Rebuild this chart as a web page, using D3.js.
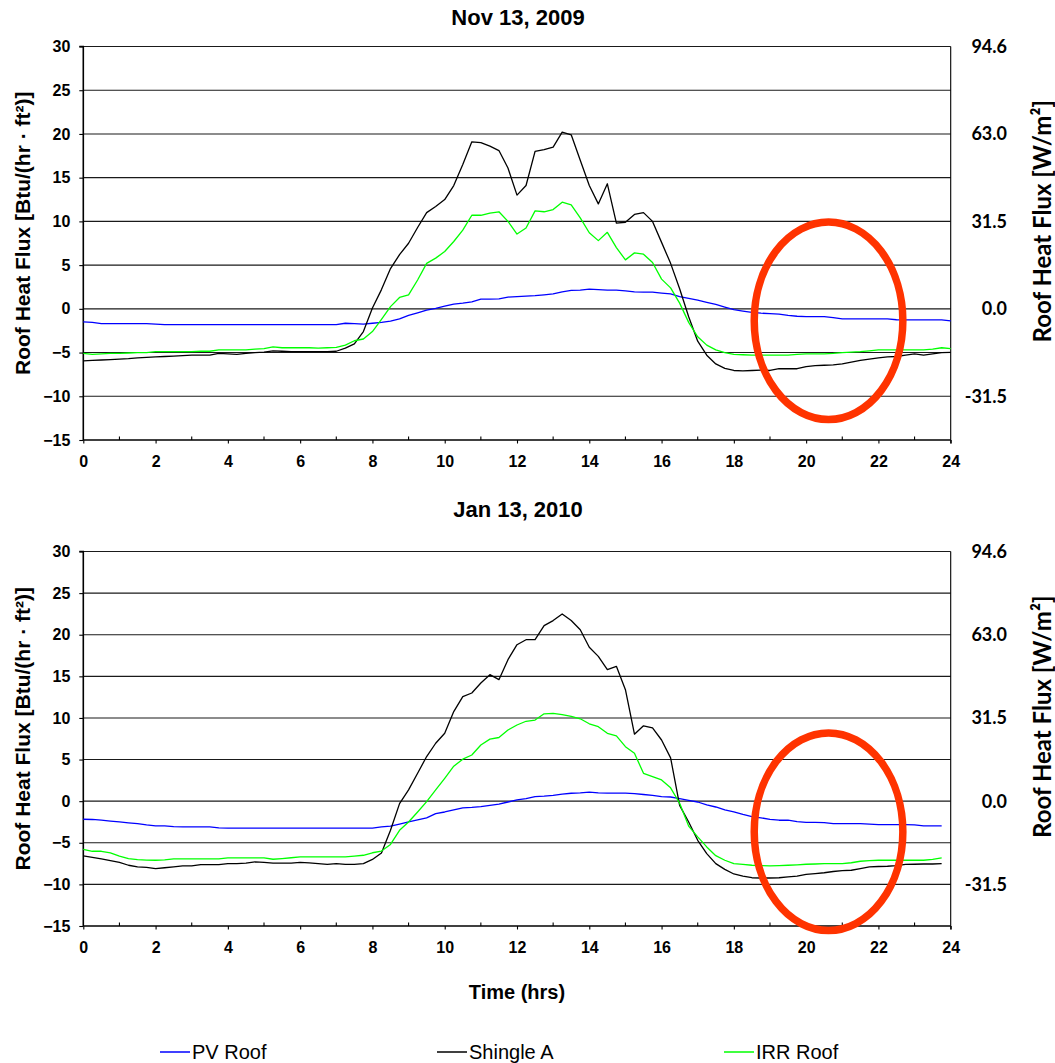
<!DOCTYPE html>
<html><head><meta charset="utf-8">
<script src="https://cdn.jsdelivr.net/npm/d3@7"></script>
<style>body{margin:0;background:#fff}svg{display:block}</style>
</head><body>
<svg id="c" width="1055" height="1063"></svg>
<script>
// ---------- DATA ----------
const stepHours = 0.25;             // samples every 15 minutes
const xTickValues = [0,2,4,6,8,10,12,14,16,18,20,22,24];
const xMinorTicks = [1,3,5,7,9,11,13,15,17,19,21,23];
const yTickValues = [-15,-10,-5,0,5,10,15,20,25,30];
const rightTickLabels = ["-31.5","0.0","31.5","63.0","94.6"];
const rightTickAt = [-10,0,10,20,30];   // left-axis units where right labels sit
const seriesNames = ["PV Roof","Shingle A","IRR Roof"];
const seriesColors = ["#0000ff","#000000","#00ff00"];
const titles = ["Nov 13, 2009","Jan 13, 2010"];

// Nov 13, 2009
const pvNov = [
 -1.5,-1.55,-1.7,-1.7,-1.7,-1.7,-1.7,-1.7,
 -1.75,-1.8,-1.8,-1.8,-1.8,-1.8,-1.8,-1.8,
 -1.8,-1.8,-1.8,-1.8,-1.8,-1.8,-1.8,-1.8,
 -1.8,-1.8,-1.8,-1.8,-1.8,-1.65,-1.7,-1.75,
 -1.65,-1.55,-1.4,-1.15,-0.75,-0.45,-0.15,0.05,
 0.3,0.55,0.65,0.8,1.1,1.1,1.15,1.35,
 1.4,1.45,1.5,1.6,1.7,1.95,2.1,2.15,
 2.25,2.2,2.15,2.15,2.05,1.95,1.9,1.9,
 1.8,1.7,1.4,1.2,1.0,0.75,0.5,0.2,
 -0.1,-0.25,-0.4,-0.5,-0.55,-0.6,-0.75,-0.85,
 -0.88,-0.88,-0.88,-1.0,-1.15,-1.15,-1.15,-1.15,
 -1.15,-1.15,-1.25,-1.26,-1.26,-1.26,-1.26,-1.26,
 -1.38];
const shingleNov = [
 -5.95,-5.9,-5.85,-5.8,-5.75,-5.7,-5.6,-5.55,
 -5.5,-5.45,-5.4,-5.35,-5.3,-5.3,-5.3,-5.1,
 -5.15,-5.2,-5.1,-5.0,-4.95,-4.8,-4.85,-4.9,
 -4.9,-4.9,-4.9,-4.9,-4.85,-4.5,-4.0,-2.6,
 0.1,2.2,4.6,6.2,7.5,9.3,11.0,11.7,
 12.5,14.1,16.5,19.1,19.0,18.6,18.1,16.1,
 13.0,14.1,18.0,18.2,18.5,20.2,19.9,17.0,
 14.1,12.0,14.3,9.8,9.9,10.8,11.0,10.0,
 7.6,5.2,2.3,-0.9,-3.7,-5.3,-6.3,-6.8,
 -7.05,-7.1,-7.05,-7.0,-7.05,-6.85,-6.85,-6.85,
 -6.6,-6.5,-6.45,-6.42,-6.3,-6.1,-5.9,-5.75,
 -5.6,-5.5,-5.45,-5.3,-5.15,-5.3,-5.15,-5.0,
 -4.97];
const irrNov = [
 -5.1,-5.2,-5.15,-5.1,-5.1,-5.05,-5.0,-5.0,
 -4.9,-4.9,-4.9,-4.9,-4.9,-4.85,-4.85,-4.7,
 -4.7,-4.7,-4.7,-4.6,-4.55,-4.35,-4.45,-4.45,
 -4.45,-4.45,-4.5,-4.45,-4.4,-4.15,-3.65,-3.45,
 -2.6,-1.2,0.25,1.3,1.6,3.3,5.2,5.8,
 6.55,7.7,9.0,10.7,10.7,10.95,11.1,10.0,
 8.55,9.25,11.2,11.1,11.35,12.2,11.9,10.4,
 8.7,7.8,8.75,7.0,5.6,6.4,6.25,5.3,
 3.4,2.4,0.65,-1.55,-3.2,-4.15,-4.7,-5.0,
 -5.2,-5.25,-5.3,-5.3,-5.3,-5.3,-5.3,-5.2,
 -5.16,-5.16,-5.16,-5.1,-5.0,-4.95,-4.9,-4.8,
 -4.7,-4.7,-4.7,-4.7,-4.7,-4.7,-4.6,-4.45,
 -4.55];

// Jan 13, 2010
const pvJan = [
 -2.17,-2.2,-2.29,-2.4,-2.5,-2.6,-2.7,-2.85,
 -2.97,-2.97,-3.05,-3.09,-3.09,-3.09,-3.09,-3.2,
 -3.24,-3.24,-3.24,-3.24,-3.24,-3.24,-3.24,-3.24,
 -3.24,-3.24,-3.24,-3.24,-3.24,-3.24,-3.24,-3.24,
 -3.24,-3.1,-3.0,-2.75,-2.5,-2.25,-2.0,-1.5,
 -1.3,-1.05,-0.8,-0.75,-0.65,-0.5,-0.35,-0.1,
 0.15,0.3,0.55,0.6,0.7,0.85,0.95,1.0,
 1.08,1.0,0.96,0.96,0.96,0.9,0.8,0.7,
 0.55,0.5,0.3,0.1,-0.1,-0.45,-0.7,-1.05,
 -1.3,-1.6,-1.85,-2.0,-2.2,-2.29,-2.29,-2.45,
 -2.55,-2.55,-2.57,-2.69,-2.69,-2.69,-2.69,-2.75,
 -2.81,-2.81,-2.81,-2.81,-2.85,-2.97,-2.97,-2.97];
const shingleJan = [
 -6.58,-6.75,-6.94,-7.15,-7.35,-7.7,-7.9,-7.95,
 -8.1,-8.0,-7.9,-7.78,-7.78,-7.62,-7.62,-7.62,
 -7.5,-7.5,-7.45,-7.3,-7.35,-7.45,-7.45,-7.45,
 -7.35,-7.42,-7.5,-7.6,-7.5,-7.6,-7.6,-7.5,
 -7.0,-6.22,-3.49,-0.3,1.36,3.36,5.36,6.96,
 8.16,10.76,12.56,13.0,14.2,15.2,14.6,17.0,
 18.8,19.4,19.4,21.1,21.7,22.5,21.7,20.6,
 18.5,17.4,15.8,16.2,13.4,8.05,9.05,8.8,
 7.35,5.2,-0.5,-2.5,-4.7,-6.3,-7.5,-8.2,
 -8.75,-9.0,-9.2,-9.23,-9.23,-9.2,-9.1,-9.0,
 -8.8,-8.7,-8.6,-8.45,-8.35,-8.3,-8.1,-7.9,
 -7.85,-7.82,-7.75,-7.6,-7.58,-7.55,-7.55,-7.5];
const irrJan = [
 -5.78,-6.02,-6.02,-6.22,-6.6,-6.9,-7.02,-7.08,
 -7.1,-7.05,-6.94,-6.94,-6.94,-6.94,-6.94,-6.94,
 -6.82,-6.82,-6.82,-6.82,-6.82,-6.98,-6.9,-6.8,
 -6.7,-6.7,-6.7,-6.7,-6.7,-6.7,-6.6,-6.5,
 -6.2,-6.0,-5.2,-3.5,-2.5,-1.3,-0.05,1.35,
 2.75,4.2,5.05,5.55,6.75,7.45,7.65,8.55,
 9.15,9.6,9.75,10.5,10.55,10.4,10.2,9.9,
 9.3,8.95,8.15,7.85,6.55,5.75,3.35,2.95,
 2.55,1.6,-0.25,-3.0,-4.29,-5.5,-6.55,-7.1,
 -7.5,-7.6,-7.7,-7.74,-7.78,-7.75,-7.7,-7.65,
 -7.58,-7.55,-7.5,-7.5,-7.5,-7.4,-7.22,-7.15,
 -7.1,-7.1,-7.1,-7.1,-7.1,-7.1,-7.0,-6.82];

// red ellipse annotations (centre hour, centre value, half-width hours, half-height units)
const ellipseNov = [20.62, -1.37, 2.056, 11.29];
const ellipseJan = [20.62, -3.67, 2.056, 11.87];

// ---------- DRAW ----------
const svg = d3.select("#c");
const W2M = 3.1546;   // Btu/(hr ft2) -> W/m2
const L = 83.3, R = 950.7;
const panels = [
  {title:titles[0], top:46.5, bottom:440, series:[pvNov,shingleNov,irrNov], ell:ellipseNov, titleY:25},
  {title:titles[1], top:551.5, bottom:926, series:[pvJan,shingleJan,irrJan], ell:ellipseJan, titleY:517}
];
const x = d3.scaleLinear().domain([0,24]).range([L,R]);
const ARIAL = "'Liberation Sans', Arial, sans-serif";
const CAL = "Lato, 'Open Sans', sans-serif";

panels.forEach(p => {
  const y = d3.scaleLinear().domain([-15,30]).range([p.bottom,p.top]);
  const g = svg.append("g");

  // gridlines
  g.selectAll("line.grid").data(yTickValues.filter(v=>v>-15)).join("line")
    .attr("x1",L).attr("x2",R).attr("y1",d=>y(d)).attr("y2",d=>y(d))
    .attr("stroke","#1a1a1a").attr("stroke-width",1.1);

  // right border
  g.append("line").attr("x1",R).attr("x2",R).attr("y1",p.top).attr("y2",p.bottom+3.5)
    .attr("stroke","#000").attr("stroke-width",1.1);

  // left axis
  const yAxis = d3.axisLeft(y).tickValues(yTickValues).tickSize(4).tickPadding(9).tickFormat(d3.format("d"));
  const ya = g.append("g").attr("transform",`translate(${L},0)`).call(yAxis);
  ya.select(".domain").attr("stroke","#000").attr("stroke-width",1.6).attr("d",`M-4,${p.top}H0V${p.bottom}`);
  ya.selectAll(".tick line").attr("stroke","#000").attr("stroke-width",1.1);
  ya.selectAll("text").attr("font-family",ARIAL).attr("font-weight","bold").attr("font-size",16).attr("fill","#000");

  // bottom axis
  const xAxis = d3.axisBottom(x).tickValues(xTickValues).tickSize(3.5).tickPadding(12).tickFormat(d3.format("d"));
  const xa = g.append("g").attr("transform",`translate(0,${p.bottom})`).call(xAxis);
  xa.select(".domain").attr("stroke","#000").attr("stroke-width",1.6).attr("d",`M${L},0H${R}`);
  xa.selectAll(".tick line").attr("stroke","#000").attr("stroke-width",1.1);
  xa.selectAll("text").attr("font-family",ARIAL).attr("font-weight","bold").attr("font-size",16).attr("fill","#000");
  g.selectAll("line.minor").data(xMinorTicks).join("line").attr("class","minor")
    .attr("x1",d=>x(d)).attr("x2",d=>x(d)).attr("y1",p.bottom-3.5).attr("y2",p.bottom)
    .attr("stroke","#000").attr("stroke-width",1.1);

  // right labels
  g.selectAll("text.rt").data(rightTickLabels).join("text").attr("class","rt")
    .attr("x",1007).attr("y",(d,i)=>y(rightTickAt[i])).attr("dy","0.36em")
    .attr("text-anchor","end").attr("font-family",CAL).attr("font-weight","bold")
    .attr("font-size",18).attr("fill","#000").text(d=>d);

  // series
  const line = d3.line().x((d,i)=>x(i*stepHours)).y(d=>y(d));
  p.series.forEach((s,k)=>{
    g.append("path").datum(s).attr("d",line).attr("fill","none")
      .attr("stroke",seriesColors[k]).attr("stroke-width",1.3).attr("stroke-linejoin","round");
  });

  // ellipse annotation
  const e = p.ell;
  g.append("ellipse").attr("cx",x(e[0])).attr("cy",y(e[1]))
    .attr("rx",x(e[2])-x(0)).attr("ry",y(0)-y(e[3]))
    .attr("fill","none").attr("stroke","#ff3300").attr("stroke-width",7.5);

  // titles
  g.append("text").attr("x",518).attr("y",p.titleY).attr("text-anchor","middle")
    .attr("font-family",ARIAL).attr("font-weight","bold").attr("font-size",22).text(p.title);

  const mid = (p.top+p.bottom)/2;
  g.append("text").attr("transform",`translate(30,${mid-10}) rotate(-90)`).attr("text-anchor","middle")
    .attr("font-family",ARIAL).attr("font-weight","bold").attr("font-size",21)
    .text("Roof Heat Flux [Btu/(hr \u00b7 ft\u00b2)]");
  g.append("text").attr("transform",`translate(1051,${mid-22}) rotate(-90)`).attr("text-anchor","middle")
    .attr("font-family",CAL).attr("font-weight","bold").attr("font-size",24)
    .text("Roof Heat Flux [W/m\u00b2]");
});

// x-axis title
svg.append("text").attr("x",517).attr("y",999).attr("text-anchor","middle")
  .attr("font-family",ARIAL).attr("font-weight","bold").attr("font-size",20).text("Time (hrs)");

// legend
const legX = [160, 437, 724];
const lg = svg.append("g");
seriesNames.forEach((n,k)=>{
  lg.append("line").attr("x1",legX[k]).attr("x2",legX[k]+30).attr("y1",1052).attr("y2",1052)
    .attr("stroke",seriesColors[k]).attr("stroke-width",1.5);
  lg.append("text").attr("x",legX[k]+32).attr("y",1059).attr("font-family",ARIAL)
    .attr("font-size",20).attr("fill","#000").text(n);
});
</script>
</body></html>
